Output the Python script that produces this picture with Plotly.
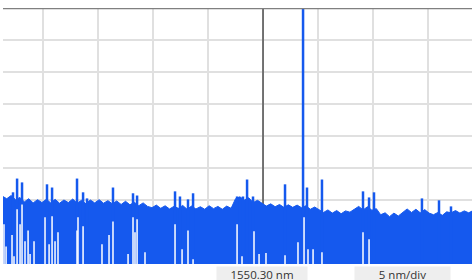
import plotly.graph_objects as go

# ---- data ----
center_nm = 1550.30
span_per_div_nm = 5
x_start_nm = 1526.66
x_end_nm = 1569.30
ref_top_dbm = 0
ref_bottom_dbm = -80
db_per_div = 10

# noise floor, sampled every 0.4 nm starting at 1526.6 nm
floor_start_nm = 1526.6
floor_step_nm = 0.4
floor_dbm = [
    -58.8, -59.6, -58.6, -59.9, -59.2,
    -60.6, -59.6, -60.9, -59.9, -60.8, -59.8,
    -60.9, -59.8, -61.0, -60.0, -60.8, -59.7, -61.0, -60.1, -61.2, -60.0, -60.9, -59.9, -61.0, -60.2,
    -61.2, -60.3, -61.4, -60.4, -61.5, -60.7,
    -61.8, -60.9, -62.0,
    -62.4, -61.6, -62.6, -61.8, -62.8, -62.0, -62.6, -61.7, -62.9, -61.9, -62.8, -62.1, -62.9, -61.8,
    -62.7, -62.0, -62.9, -61.9, -62.6,
    -59.6,
    -59.0, -60.0, -59.3,
    -60.8, -60.1, -60.9,
    -61.9, -61.2, -62.1, -61.4, -62.3, -61.5, -62.3, -61.6, -62.4, -61.8, -62.9, -62.2, -63.0,
    -63.9, -63.1, -64.1, -63.3, -64.3, -63.4, -63.8,
    -62.9, -62.0, -63.1, -62.1, -63.2, -62.7,
    -64.6, -64.0, -65.2, -64.1, -65.0,
    -63.8, -62.8, -63.9, -62.9, -64.0, -63.0, -64.1,
    -64.6, -63.9, -64.8, -63.7,
    -64.0, -63.3, -64.1, -63.4, -64.0, -63.3,
]

# narrow noise spikes and the laser line
peak_nm = [1527.57, 1527.94, 1528.39, 1530.66, 1531.12, 1533.39, 1533.94, 1534.30,
           1536.66, 1538.48, 1538.85, 1542.30, 1542.75, 1543.48, 1543.94, 1547.94,
           1548.48, 1548.85, 1549.39, 1552.30, 1553.94, 1554.30, 1555.66, 1559.39,
           1559.94, 1560.39, 1564.75, 1566.30, 1567.39]
peak_dbm = [-57.6, -53.3, -54.5, -55.1, -56.1, -53.3, -57.6, -59.5,
            -56.1, -57.9, -58.6, -57.3, -58.9, -59.8, -57.9, -58.9,
            -58.9, -53.6, -58.9, -55.1, -0.3, -56.1, -53.6, -57.3,
            -59.2, -57.6, -59.5, -60.1, -62.0]

# deep dips of the trace (white gaps rising from the bottom)
dip_nm = [1526.75, 1526.94, 1527.48, 1527.66, 1527.94, 1528.21, 1528.39, 1528.66,
          1528.94, 1529.12, 1529.48, 1530.48, 1530.85, 1531.12, 1531.39, 1531.66,
          1533.39, 1533.48, 1533.94, 1535.66, 1536.30, 1536.66, 1538.03, 1538.48,
          1538.66, 1538.85, 1539.57, 1542.30, 1542.94, 1543.48, 1543.94, 1547.94,
          1548.39, 1549.48, 1549.94, 1550.57, 1552.30, 1553.48, 1554.03, 1554.39,
          1554.85, 1555.66, 1559.39, 1559.94]
dip_dbm = [-67.6, -74.5, -70.9, -77.6, -62.9, -67.6, -61.4, -72.9,
           -69.5, -76.9, -72.9, -65.4, -73.8, -65.1, -72.9, -70.1,
           -69.5, -65.4, -68.2, -73.8, -70.9, -66.7, -76.9, -65.4,
           -70.1, -66.0, -76.3, -67.6, -75.4, -69.5, -78.5, -67.6,
           -77.6, -69.8, -76.9, -76.6, -77.3, -73.2, -65.4, -75.4,
           -75.4, -76.3, -70.1, -72.3]

center_label = "1550.30 nm"
span_label = "5 nm/div"

# ---- figure ----
BLUE = "#1559EE"
BASE = -85

floor_nm = [floor_start_nm + floor_step_nm * i for i in range(len(floor_dbm))]

def vlines(xs, tops):
    xx, yy = [], []
    for x, t in zip(xs, tops):
        xx += [x, x, None]
        yy += [BASE, t, None]
    return xx, yy

fig = go.Figure()

# marker line at centre wavelength (drawn under the trace)
fig.add_trace(go.Scatter(x=[center_nm, center_nm], y=[ref_bottom_dbm, ref_top_dbm],
                         mode="lines", line=dict(color="#2a2a2a", width=1.2),
                         hoverinfo="skip"))

# floor fill
fig.add_trace(go.Scatter(x=floor_nm, y=[BASE] * len(floor_nm), mode="lines",
                         line=dict(width=0, color=BLUE), hoverinfo="skip"))
fig.add_trace(go.Scatter(x=floor_nm, y=floor_dbm, mode="lines", fill="tonexty",
                         fillcolor=BLUE, line=dict(color=BLUE, width=1)))

# spikes
px, py = vlines(peak_nm, peak_dbm)
fig.add_trace(go.Scatter(x=px, y=py, mode="lines",
                         line=dict(color=BLUE, width=2.5)))

# dips
dx, dy = vlines(dip_nm, dip_dbm)
fig.add_trace(go.Scatter(x=dx, y=dy, mode="lines",
                         line=dict(color="white", width=1.5)))

fig.add_shape(type="line", xref="paper", yref="y", x0=0, x1=1,
              y0=ref_top_dbm, y1=ref_top_dbm,
              line=dict(color="#808080", width=2.5), layer="above")

ann_font = dict(family="Open Sans, Noto Sans, sans-serif", size=11.5, color="#333333")
fig.add_annotation(text=center_label, xref="paper", yref="paper",
                   x=(262 - 3) / 469, y=-2 / 256, xanchor="center", yanchor="top",
                   showarrow=False, bgcolor="#eeeeee", width=90, height=14,
                   borderpad=0, font=ann_font)
fig.add_annotation(text=span_label, xref="paper", yref="paper",
                   x=(402 - 3) / 469, y=-2 / 256, xanchor="center", yanchor="top",
                   showarrow=False, bgcolor="#eeeeee", width=95, height=14,
                   borderpad=0, font=ann_font)

fig.update_layout(
    width=472, height=280,
    margin=dict(l=3, r=0, t=8, b=16),
    paper_bgcolor="white", plot_bgcolor="white",
    showlegend=False,
    xaxis=dict(range=[x_start_nm, x_end_nm], tick0=center_nm, dtick=span_per_div_nm,
               showticklabels=False, ticks="", showgrid=True,
               gridcolor="#e0e0e0", gridwidth=1.5, zeroline=False, showline=False,
               fixedrange=True),
    yaxis=dict(range=[ref_bottom_dbm, ref_top_dbm], tick0=ref_top_dbm, dtick=db_per_div,
               showticklabels=False, ticks="", showgrid=True,
               gridcolor="#e0e0e0", gridwidth=1.5, zeroline=False, showline=False,
               fixedrange=True),
)

fig.write_html("out.html", config={"displayModeBar": False},
               post_script="document.body.style.margin='0';document.body.style.overflow='hidden';")
